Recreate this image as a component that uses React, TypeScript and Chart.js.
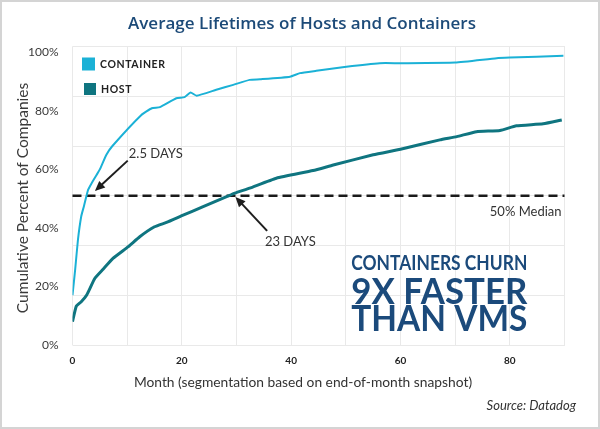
import React, { useEffect, useRef } from "react";
import { Chart, registerables } from "chart.js";

Chart.register(...registerables);

// ---- data ----
const containerMonths = [0, 0.5, 1, 1.6, 2.1, 2.85, 3.5, 4.4, 5.0, 6.2, 7.3, 12.6, 14.5, 16, 19, 20.5, 21.6, 22.7, 26.3, 29.4, 32.4, 34.3, 39.8, 41.6, 44.6, 50.1, 56.2, 59.9, 70, 77.6, 80, 89.8];
const containerPct = [17, 26, 36, 44, 47.5, 53, 55.3, 58.1, 60, 65, 68, 78.6, 80.9, 81.3, 84.3, 84.7, 86.3, 85.2, 87.2, 88.9, 90.6, 90.8, 91.7, 92.9, 93.7, 95.1, 96.3, 96.3, 96.5, 98.0, 98.2, 98.8];

const hostMonths = [0, 0.7, 1.6, 2.6, 4.1, 5.6, 7.4, 10.2, 12.3, 15, 17.2, 19.9, 23.9, 28.2, 29.7, 32.4, 37.3, 44, 47.7, 55, 60, 67.2, 70.3, 73.9, 78.2, 81.2, 86.1, 89.5];
const hostPct = [8.0, 13.3, 14.8, 17.1, 22.8, 25.9, 29.6, 33.6, 37.0, 40.4, 41.9, 44.1, 47.3, 50.7, 51.9, 53.6, 57.0, 59.6, 61.5, 65.0, 66.9, 70.1, 71.2, 72.9, 73.3, 74.9, 75.6, 76.9];

const seriesNames = ["CONTAINER", "HOST"];
const seriesColors = ["#1bb1d6", "#0f7580"];
const xTickLabels = [0, 20, 40, 60, 80];
const yTickLabels = [0, 20, 40, 60, 80, 100];

const titleText = "Average Lifetimes of Hosts and Containers";
const xTitle = "Month (segmentation based on end-of-month snapshot)";
const yTitle = "Cumulative Percent of Companies";
const sourceText = "Source: Datadog";
const medianLabel = "50% Median";
const medianValue = 51; // drawn on the middle grid line
const calloutLines = ["CONTAINERS CHURN", "9X FASTER", "THAN VMS"];

// annotation anchors in data units [month, percent]
const arrow1 = { text: "2.5 DAYS", from: [10.1, 63.0], to: [4.1, 52.6], label: [10.3, 65.3] };
const arrow2 = { text: "23 DAYS", from: [35.6, 39.0], to: [29.8, 50.6], label: [35.2, 35.2] };

function drawArrow(ctx: CanvasRenderingContext2D, x1: number, y1: number, x2: number, y2: number) {
  const ang = Math.atan2(y2 - y1, x2 - x1);
  const head = 11;
  const bx = x2 - Math.cos(ang) * head * 0.8;
  const by = y2 - Math.sin(ang) * head * 0.8;
  ctx.save();
  ctx.strokeStyle = "#1e1e1e";
  ctx.fillStyle = "#1e1e1e";
  ctx.lineWidth = 2;
  ctx.beginPath();
  ctx.moveTo(x1, y1);
  ctx.lineTo(bx, by);
  ctx.stroke();
  ctx.beginPath();
  ctx.moveTo(x2, y2);
  ctx.lineTo(x2 - Math.cos(ang - 0.42) * head, y2 - Math.sin(ang - 0.42) * head);
  ctx.lineTo(x2 - Math.cos(ang + 0.42) * head, y2 - Math.sin(ang + 0.42) * head);
  ctx.closePath();
  ctx.fill();
  ctx.restore();
}

const decorPlugin = {
  id: "decor",
  beforeDraw(chart: any) {
    const { ctx, width, height } = chart;
    ctx.save();
    ctx.fillStyle = "#ffffff";
    ctx.fillRect(0, 0, width, height);
    ctx.strokeStyle = "#d4d4d4";
    ctx.lineWidth = 2;
    ctx.strokeRect(1, 1, width - 2, height - 2);
    ctx.restore();
  },
  beforeDatasetsDraw(chart: any) {
    const { ctx, chartArea, scales } = chart;
    const y = scales.y.getPixelForValue(medianValue);
    ctx.save();
    ctx.strokeStyle = "#1a1a1a";
    ctx.lineWidth = 2.5;
    ctx.setLineDash([9, 5]);
    ctx.beginPath();
    ctx.moveTo(chartArea.left, y);
    ctx.lineTo(chartArea.right, y);
    ctx.stroke();
    ctx.restore();
  },
  afterDraw(chart: any) {
    const { ctx, chartArea, scales, width } = chart;
    const xs = scales.x;
    const ys = scales.y;
    const px = (m: number) => xs.getPixelForValue(m);
    const py = (v: number) => ys.getPixelForValue(v);
    ctx.save();

    // title
    ctx.fillStyle = "#1c4a78";
    ctx.font = "600 17px 'Open Sans'";
    ctx.textAlign = "center";
    ctx.textBaseline = "middle";
    ctx.fillText(titleText, width / 2 + 2, 24);

    // legend
    const legendY = [64, 89];
    const boxX = [82, 84];
    const boxS = [13, 12];
    seriesNames.forEach((name, i) => {
      ctx.fillStyle = seriesColors[i];
      ctx.fillRect(boxX[i], legendY[i] - boxS[i] / 2, boxS[i], boxS[i]);
      ctx.fillStyle = "#222";
      ctx.font = "bold 10.5px Lato";
      (ctx as any).letterSpacing = "0.6px";
      ctx.textAlign = "left";
      ctx.textBaseline = "middle";
      ctx.fillText(name, boxX[i] + boxS[i] + 5, legendY[i] + 0.5);
      (ctx as any).letterSpacing = "0px";
    });

    // y title
    ctx.save();
    ctx.translate(23, 198);
    ctx.rotate(-Math.PI / 2);
    ctx.fillStyle = "#3a3a3a";
    ctx.font = "15.5px Lato";
    ctx.textAlign = "center";
    ctx.textBaseline = "middle";
    ctx.fillText(yTitle, 0, 0);
    ctx.restore();

    // x title
    ctx.fillStyle = "#333";
    ctx.font = "13.8px Lato";
    ctx.textAlign = "center";
    ctx.textBaseline = "middle";
    ctx.fillText(xTitle, 303, 383);

    // source
    ctx.font = "italic 13px Lato";
    ctx.textAlign = "right";
    ctx.fillText(sourceText, 576, 406);

    // median label
    ctx.fillStyle = "#333";
    ctx.font = "13px Lato";
    ctx.textAlign = "right";
    ctx.fillText(medianLabel, chartArea.right - 3, py(medianValue) + 16);

    // arrows + labels
    [arrow1, arrow2].forEach((a) => {
      drawArrow(ctx, px(a.from[0]), py(a.from[1]), px(a.to[0]), py(a.to[1]));
      ctx.fillStyle = "#333";
      ctx.font = "13px Lato";
      ctx.textAlign = "left";
      ctx.textBaseline = "middle";
      ctx.fillText(a.text, px(a.label[0]), py(a.label[1]));
    });

    // callout
    const cx = px(51);
    ctx.fillStyle = "#1b4a7b";
    ctx.textAlign = "left";
    ctx.textBaseline = "alphabetic";
    ctx.font = "bold 20px Lato";
    ctx.fillText(calloutLines[0], cx, 269.5, 176);
    ctx.font = "bold 36px Lato";
    ctx.fillText(calloutLines[1], cx, 303.5, 176);
    ctx.fillText(calloutLines[2], cx, 331, 176);

    ctx.restore();
  },
};

export default function App() {
  const ref = useRef<HTMLCanvasElement | null>(null);
  useEffect(() => {
    if (!ref.current) return;
    const chart = new Chart(ref.current, {
      type: "line",
      data: {
        datasets: [
          {
            label: seriesNames[0],
            data: containerMonths.map((m, i) => ({ x: m, y: containerPct[i] })),
            borderColor: seriesColors[0],
            borderWidth: 2,
            pointRadius: 0,
            tension: 0.15,
            yAxisID: "y",
          },
          {
            label: seriesNames[1],
            data: hostMonths.map((m, i) => ({ x: m, y: hostPct[i] })),
            borderColor: seriesColors[1],
            borderWidth: 3,
            pointRadius: 0,
            tension: 0.15,
            yAxisID: "y",
          },
        ],
      },
      options: {
        responsive: false,
        maintainAspectRatio: false,
        animation: false,
        layout: { padding: { top: 46.5, right: 35.5, left: 0, bottom: 0 } },
        plugins: { legend: { display: false }, tooltip: { enabled: false }, title: { display: false } },
        scales: {
          x: {
            type: "linear",
            min: 0,
            max: 90,
            afterFit: (s: any) => { s.height = 84; },
            grid: { color: "#e9e9e9", drawTicks: false },
            border: { display: false },
            ticks: {
              stepSize: 10,
              padding: 10,
              autoSkip: false,
              maxRotation: 0,
              color: "#222",
              font: { family: "Lato", size: 10, weight: "bold" },
              callback: (v: any) => (xTickLabels.includes(Number(v)) ? String(v) : ""),
            },
          },
          y: {
            type: "linear",
            position: "left",
            min: 0,
            max: 102,
            afterFit: (s: any) => { s.width = 72.5; },
            grid: { display: false },
            border: { display: false },
            ticks: {
              stepSize: 20,
              includeBounds: false,
              padding: 6,
              color: "#3a3a3a",
              font: { family: "Lato", size: 12 },
              callback: (v: any) => (yTickLabels.includes(Number(v)) ? v + "%" : ""),
            },
          },
          yGrid: {
            type: "linear",
            position: "right",
            min: 0,
            max: 102,
            afterFit: (s: any) => { s.width = 0; },
            grid: { color: "#e9e9e9", drawTicks: false },
            border: { display: false },
            ticks: { display: false, stepSize: 17 },
          },
        },
      } as any,
      plugins: [decorPlugin],
    });
    return () => chart.destroy();
  }, []);
  return (
    <div style={{ position: "fixed", left: 0, top: 0, width: 600, height: 429, background: "#fff" }}>
      <canvas ref={ref} width={600} height={429} style={{ display: "block" }} />
    </div>
  );
}
